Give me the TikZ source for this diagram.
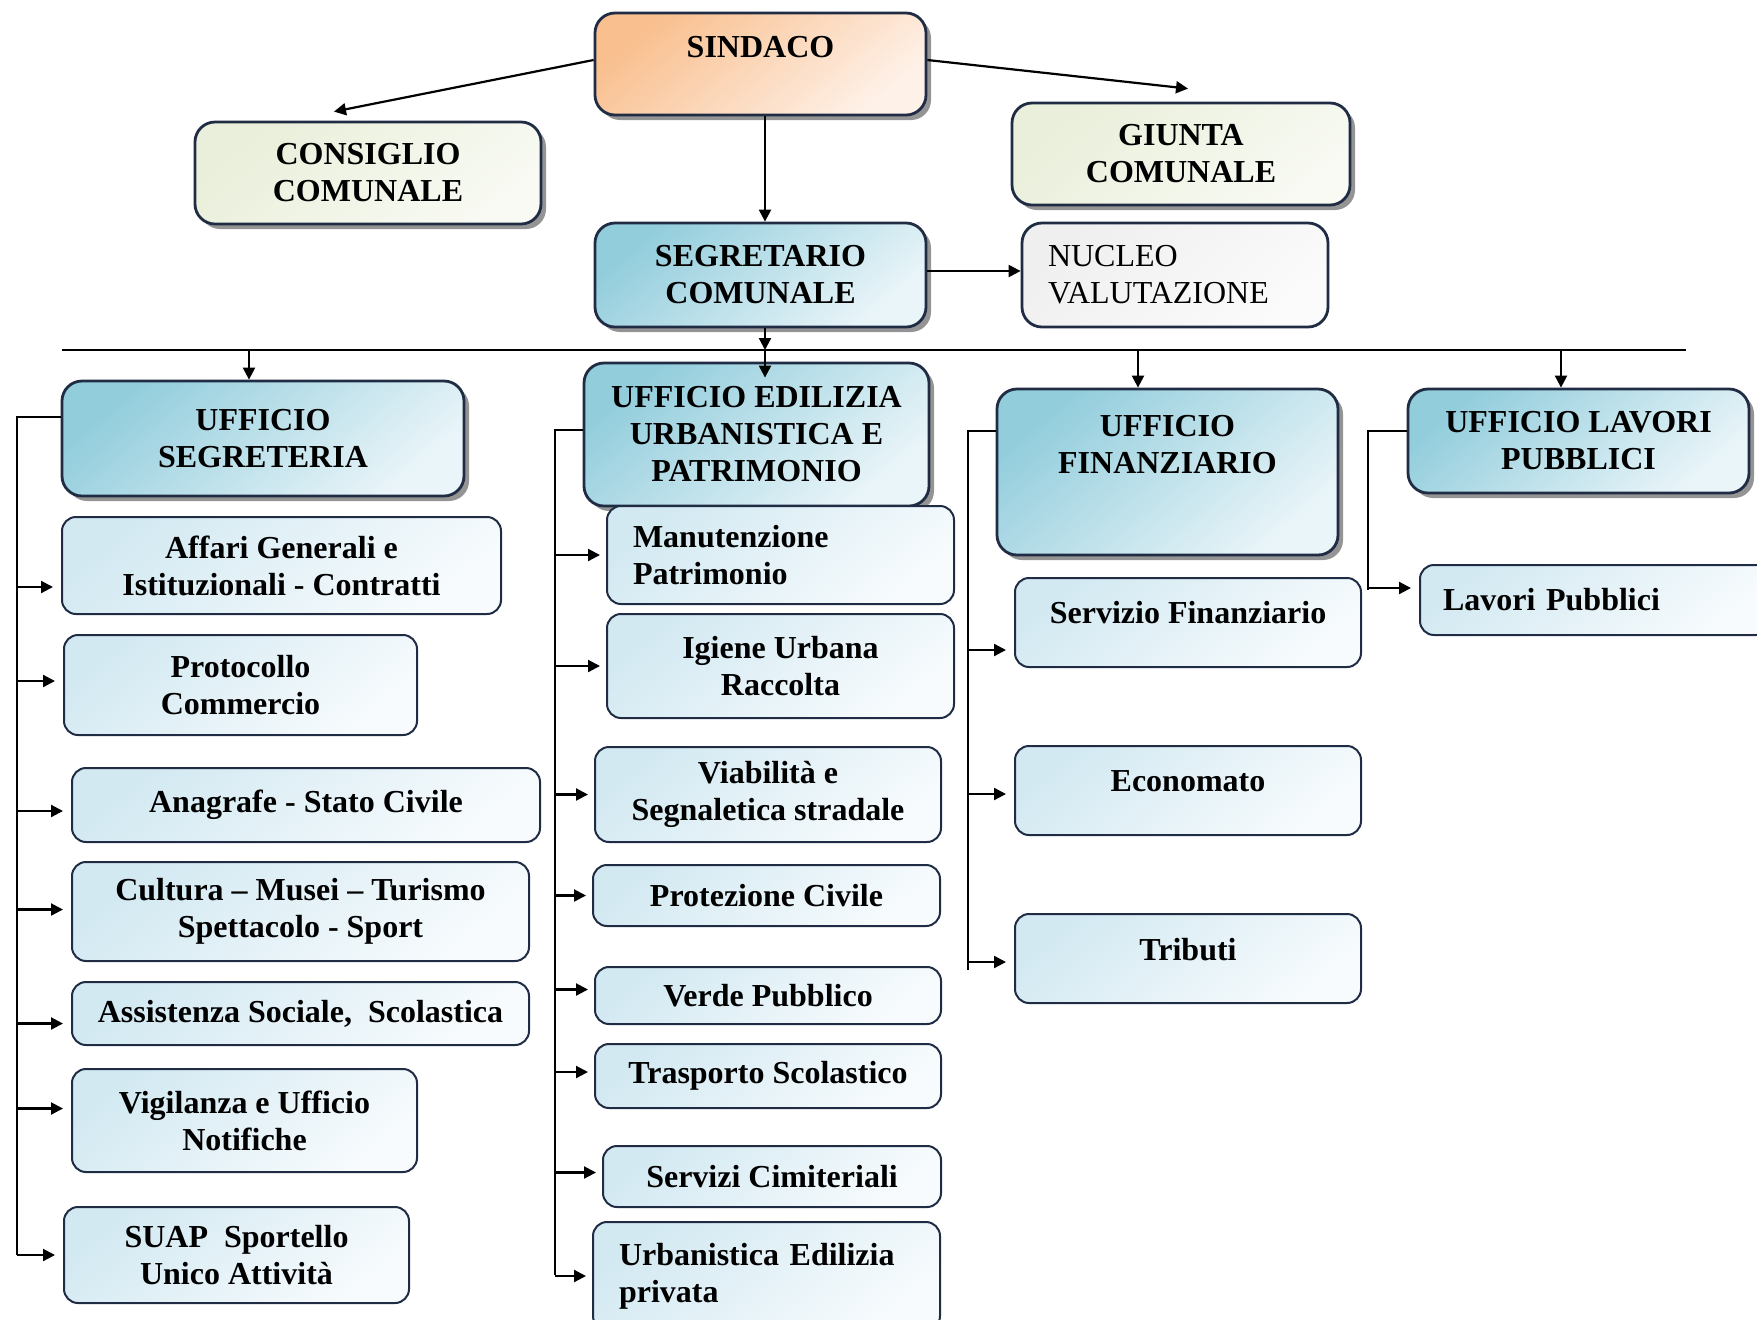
\documentclass[tikz,border=0pt]{standalone}
\usepackage{fontspec}
\setmainfont{Liberation Serif}
\usetikzlibrary{arrows.meta,shadows}
\definecolor{Frame}{HTML}{1F2C44}
\definecolor{OrangeA}{HTML}{F9BF8E}
\definecolor{OrangeB}{HTML}{FEF1E8}
\definecolor{OliveA}{HTML}{E9EFDA}
\definecolor{OliveB}{HTML}{F8FAF3}
\definecolor{AquaA}{HTML}{92CDDC}
\definecolor{AquaB}{HTML}{EAF5F9}
\definecolor{PaleA}{HTML}{D3E9F2}
\definecolor{PaleB}{HTML}{F7FBFD}
\definecolor{GreyA}{HTML}{EFEFEF}
\definecolor{GreyB}{HTML}{FBFBFB}
\tikzset{
  box/.style={rounded corners=10pt, draw=Frame, line width=1.4pt, align=center, inner sep=3pt, font=\bfseries\fontsize{16}{18.5}\selectfont},
  tint/.style 2 args={top color=#1, bottom color=#2, shading angle=40},
  shadowed/.style={drop shadow={shadow xshift=2.5pt, shadow yshift=-2.5pt, fill=black!60, opacity=.7}},
  orangebox/.style={box, shadowed, tint={OrangeA}{OrangeB}},
  olivebox/.style={box, shadowed, tint={OliveA}{OliveB}},
  headbox/.style={box, shadowed, tint={AquaA}{AquaB}},
  greybox/.style={box, tint={GreyA}{GreyB}, font=\fontsize{16}{18.5}\selectfont, align=left},
  subbox/.style={box, rounded corners=7pt, line width=1pt, tint={PaleA}{PaleB}},
  raise/.style={text depth=#1},
  arr/.style={-{Triangle[length=6pt,width=6pt]}, line width=1.1pt},
  link/.style={line width=1pt}
}

\begin{document}
\begin{tikzpicture}[x=0.5pt,y=-0.5pt]
\clip (0,0) rectangle (1757,1319);
\node[orangebox, minimum width=165.5pt, minimum height=51pt, raise=17pt] (sindaco) at (760.5,64) {SINDACO};
\node[olivebox, minimum width=173pt, minimum height=51pt] (consiglio) at (368,173) {CONSIGLIO\\COMUNALE};
\node[olivebox, minimum width=169pt, minimum height=51pt] (giunta) at (1181,154) {GIUNTA\\COMUNALE};
\node[headbox, minimum width=165.5pt, minimum height=52pt] (segretario) at (760.5,275) {SEGRETARIO\\COMUNALE};
\node[greybox, minimum width=153pt, minimum height=52pt, text width=127pt, inner xsep=13pt] (nucleo) at (1175,275) {NUCLEO\\VALUTAZIONE};

\node[headbox, minimum width=201pt, minimum height=57.5pt] (uffsegr) at (263,438.5) {UFFICIO\\SEGRETERIA};
\node[headbox, minimum width=172.5pt, minimum height=71.5pt] (uffedil) at (756.5,434.5) {UFFICIO EDILIZIA\\URBANISTICA E\\PATRIMONIO};
\node[headbox, minimum width=170.5pt, minimum height=83pt, raise=28pt] (ufffin) at (1167.5,472) {UFFICIO\\FINANZIARIO};
\node[headbox, minimum width=170.5pt, minimum height=52pt] (ufflav) at (1578.5,441) {UFFICIO LAVORI\\PUBBLICI};

\node[subbox, minimum width=219.5pt, minimum height=48.5pt] (affari) at (281.5,565.5) {Affari Generali e\\Istituzionali - Contratti};
\node[subbox, minimum width=176.5pt, minimum height=50pt] (protocollo) at (240.5,685) {Protocollo\\Commercio};
\node[subbox, minimum width=234pt, minimum height=37pt] (anagrafe) at (306,805) {Anagrafe - Stato Civile};
\node[subbox, minimum width=228.5pt, minimum height=49.5pt] (cultura) at (300.5,911.5) {Cultura – Musei – Turismo\\Spettacolo - Sport};
\node[subbox, minimum width=228.5pt, minimum height=31.5pt] (assistenza) at (300.5,1013.5) {Assistenza Sociale,\ \ Scolastica};
\node[subbox, minimum width=172.5pt, minimum height=51.5pt] (vigilanza) at (244.5,1120.5) {Vigilanza e Ufficio\\Notifiche};
\node[subbox, minimum width=172.5pt, minimum height=48pt] (suap) at (236.5,1255) {SUAP\ \ Sportello\\Unico Attività};

\node[subbox, minimum width=173.5pt, minimum height=49pt, text width=147.5pt, inner xsep=13pt, align=left] (manut) at (780.5,555) {Manutenzione\\Patrimonio};
\node[subbox, minimum width=173.5pt, minimum height=52pt] (igiene) at (780.5,666) {Igiene Urbana\\Raccolta};
\node[subbox, minimum width=173pt, minimum height=47.5pt] (viab) at (768,794.5) {Viabilità e\\Segnaletica stradale};
\node[subbox, minimum width=173.5pt, minimum height=30.5pt] (protez) at (766.5,895.5) {Protezione Civile};
\node[subbox, minimum width=173pt, minimum height=28.5pt] (verde) at (768,995.5) {Verde Pubblico};
\node[subbox, minimum width=173pt, minimum height=32pt] (trasp) at (768,1076) {Trasporto Scolastico};
\node[subbox, minimum width=169pt, minimum height=30.5pt] (cimit) at (772,1176.5) {Servizi Cimiteriali};
\node[subbox, minimum width=173.5pt, minimum height=54pt, text width=147.5pt, inner xsep=13pt, align=left] (urban) at (766.5,1276) {Urbanistica Edilizia\\privata};

\node[subbox, minimum width=173pt, minimum height=44.5pt, raise=9.7pt] (servfin) at (1188,622.5) {Servizio Finanziario};
\node[subbox, minimum width=173pt, minimum height=44.5pt, raise=9.5pt] (econ) at (1188,790.5) {Economato};
\node[subbox, minimum width=173pt, minimum height=44.5pt, raise=9.5pt] (tributi) at (1188,958.5) {Tributi};

\node[subbox, minimum width=175pt, minimum height=35pt, text width=152pt, inner xsep=11.5pt, align=left] (lavpub) at (1595,600) {Lavori Pubblici};

\coordinate (busL) at (62,350);
\coordinate (busR) at (1686,350);
\coordinate (b1) at (249,350);
\coordinate (b2) at (765,350);
\coordinate (b3) at (1138,350);
\coordinate (b4) at (1561,350);
\coordinate (t1) at (17,1255);
\coordinate (t2) at (555,1275);
\coordinate (t3) at (968,970);
\coordinate (t4) at (1368,590);

\draw[arr] ([yshift=2pt]sindaco.west) -- ([xshift=-17pt,yshift=4.5pt]consiglio.north);
\draw[arr] ([yshift=2pt]sindaco.east) -- ([xshift=3.5pt,yshift=6.5pt]giunta.north);
\draw[arr] (sindaco.south -| b2) -- (segretario.north -| b2);
\draw[arr] ([yshift=2pt]segretario.east) -- ([yshift=2pt]nucleo.west);
\draw[link] (busL) -- (busR);
\draw[arr] (segretario.south -| b2) -- (b2);
\draw[arr, shorten >=-8pt] (b2) -- (b2 |- uffedil.north);
\foreach \b/\n in {b1/uffsegr, b3/ufffin, b4/ufflav}{\draw[arr] (\b) -- (\b |- \n.north);}

\draw[link] ([yshift=10.75pt]uffsegr.west) -| (t1);
\draw[link] ([yshift=2.25pt]uffedil.west) -| (t2);
\draw[link] ([yshift=20.5pt]ufffin.west) -| (t3);
\draw[link] ([yshift=5pt]ufflav.west) -| (t4);

\foreach \n/\s in {affari/-10.75, protocollo/2, anagrafe/-3, cultura/1, assistenza/-5, vigilanza/6, suap/0}{
  \path ([yshift=\s pt]\n.west) coordinate (p);
  \draw[arr, shorten >=4pt] (p -| t1) -- (p);
}
\foreach \n/\s in {manut/0, igiene/0, viab/0, protez/0, verde/3, trasp/2, cimit/2, urban/0}{
  \path ([yshift=\s pt]\n.west) coordinate (p);
  \draw[arr, shorten >=3pt] (p -| t2) -- (p);
}
\foreach \n/\s in {servfin/-13.75, econ/-1.75, tributi/-1.75}{
  \path ([yshift=\s pt]\n.west) coordinate (p);
  \draw[arr, shorten >=4pt] (p -| t3) -- (p);
}
\path ([yshift=6pt]lavpub.west) coordinate (p);
\draw[arr, shorten >=4pt] (p -| t4) -- (p);
\end{tikzpicture}
\end{document}
